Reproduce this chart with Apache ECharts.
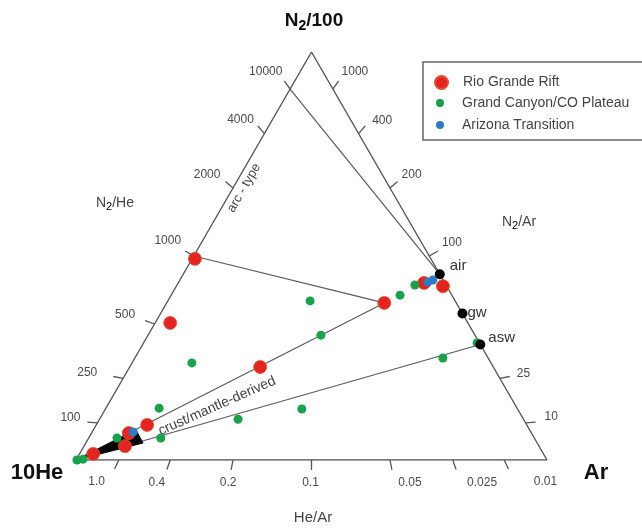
<!DOCTYPE html>
<html><head><meta charset="utf-8">
<script src="https://cdn.jsdelivr.net/npm/echarts@6/dist/echarts.min.js"></script>
<style>html,body{margin:0;padding:0;background:#fff}#c{width:642px;height:531px}</style>
</head><body><div id="c"></div>
<script>
// ---------- DATA (ternary compositions, percent: [N2/100, 10He, Ar]) ----------
const seriesNames = ['Rio Grande Rift', 'Grand Canyon/CO Plateau', 'Arizona Transition'];
const rioGrandeRift = [[49.3,50.1,0.6],[33.6,63.2,3.2],[38.5,15.3,46.2],[22.8,49.5,27.7],[8.6,80.6,10.8],
  [6.6,85.5,7.9],[3.4,87.9,8.7],[1.5,95.7,2.9],[43.4,4.4,52.2],[42.6,0.8,56.6]];
const grandCanyon = [[0,99.8,0.2],[0.2,98.4,1.4],[5.4,88.6,6.0],[12.7,76.0,11.3],[5.4,79.3,15.3],[23.8,63.5,12.7],
  [10.0,60.6,29.4],[12.5,45.8,41.7],[39.0,30.8,30.2],[30.6,32.7,36.7],[40.4,11.0,48.6],[42.9,6.6,50.5],
  [28.7,0.5,70.8],[25.0,9.6,65.4]];
const arizonaTransition = [[6.9,84.5,8.7],[43.6,3.5,52.9],[44.1,2.2,53.7]];
// reference atmospheric / water end-members (N2/Ar ratio, He ~ 0)
const refNames = ['air', 'gw', 'asw'];
const refN2Ar = [83.6, 56, 39.5];
// crust/mantle end-member where the mixing lines meet
const mixEndMember = [38.5, 15.3, 46.2];
// mantle wedge field near 10He apex
const mantleWedge = [[0,100,0],[7.35,83.6,9.05],[4.17,83.7,12.15]];
// axis ticks
const n2HeTicks = [10000, 4000, 2000, 1000, 500, 250, 100];
const n2ArTicks = [1000, 400, 200, 100, 25, 10];
const heArTicks = [1.0, 0.4, 0.2, 0.1, 0.05, 0.025, 0.01];
const heArTickLabels = ['1.0', '0.4', '0.2', '0.1', '0.05', '0.025', '0.01'];

// ---------- LAYOUT ----------
const leftLabelShift = [[-2,-9],[-4,-6],[-5,-6.5],[-4,-10],[-10,-6],[-16,-3.5],[-7,-4]];
const rightLabelShift = [[3,-9],[7,-5],[4,-6.5],[4,-8],[7,-3],[9,-5]];
const bottomLabelShift = [[-18,13],[-10,13],[-3,13],[-1,13],[18,13],[26,13],[37,13]];
const TICK = 10;
const FONT = "'Liberation Sans', Arial, sans-serif";

const SQ = Math.sqrt(3) / 2;
function tern(n2, he, ar) { const s = n2 + he + ar; const t = n2 / s, r = ar / s; return [r + t / 2, t * SQ]; }
const tv = d => tern(d[0], d[1], d[2]);
function onN2He(R) { return tern(R / 1000, 1, 0); }
function onN2Ar(R) { return tern(R / 100, 0, 1); }
function onHeAr(R) { return tern(0, 10 * R, 1); }
const V_HE = tern(0,1,0), V_AR = tern(0,0,1), V_N2 = tern(1,0,0);

const tickItems = [];
n2HeTicks.forEach((v, i) => tickItems.push({ value: [0, v], edge: 0, p: onN2He(v), from: V_AR, label: String(v), shift: leftLabelShift[i] }));
n2ArTicks.forEach((v, i) => tickItems.push({ value: [1, v], edge: 1, p: onN2Ar(v), from: V_HE, label: String(v), shift: rightLabelShift[i] }));
heArTicks.forEach((v, i) => tickItems.push({ value: [2, v], edge: 2, p: onHeAr(v), from: V_N2, label: heArTickLabels[i], shift: bottomLabelShift[i] }));

function renderTick(params, api) {
  const it = tickItems[params.dataIndex];
  const P = api.coord(it.p), F = api.coord(it.from);
  let dx = P[0] - F[0], dy = P[1] - F[1]; const L = Math.hypot(dx, dy); dx /= L; dy /= L;
  const E = [P[0] + dx * TICK, P[1] + dy * TICK];
  const align = it.edge === 0 ? 'right' : (it.edge === 1 ? 'left' : 'center');
  return { type: 'group', children: [
    { type: 'line', shape: { x1: P[0], y1: P[1], x2: E[0], y2: E[1] }, style: { stroke: '#555', lineWidth: 1.3 } },
    { type: 'text', x: E[0] + it.shift[0], y: E[1] + it.shift[1],
      style: { text: it.label, fill: '#4a4a4a', font: '12px ' + FONT, align: align, verticalAlign: 'middle' } }
  ]};
}

function renderWedge(params, api) {
  const pts = mantleWedge.map(d => api.coord(tv(d)));
  return { type: 'polygon', shape: { points: pts }, style: { fill: '#000', stroke: '#000', lineWidth: 1 } };
}

function lineSeries(a, b, color, width) {
  return { type: 'line', data: [a, b], symbol: 'none', silent: true, animation: false, z: 1,
    lineStyle: { color: color || '#5a5a5a', width: width || 1.2 } };
}

const refPts = refN2Ar.map(onN2Ar);
const refLabelOffset = [[0,-8],[-5,-1],[-2,-7]];

const rich = (size, weight, color) => ({
  a: { fontSize: size, fontWeight: weight, fill: color, color: color, fontFamily: FONT },
  s: { fontSize: Math.round(size * 0.75), fontWeight: weight, color: color, fontFamily: FONT, padding: [Math.round(size * 0.5), 0, 0, 0] }
});

const chart = echarts.init(document.getElementById('c'), null, { renderer: 'canvas' });
chart.setOption({
  animation: false,
  backgroundColor: '#fff',
  grid: { left: 76, top: 52, width: 471, height: 408, containLabel: false },
  xAxis: { type: 'value', min: 0, max: 1, show: false },
  yAxis: { type: 'value', min: 0, max: SQ, show: false },
  legend: [
    { data: [{ name: seriesNames[0], icon: 'circle' }], left: 434, top: 75, padding: 0, itemWidth: 13, itemHeight: 13,
      selectedMode: false, textStyle: { fontSize: 14, color: '#444', fontFamily: FONT, padding: [0,0,0,10] } },
    { data: [{ name: seriesNames[1], icon: 'circle' }, { name: seriesNames[2], icon: 'circle' }], orient: 'vertical',
      left: 436, top: 95, padding: 0, itemWidth: 8, itemHeight: 8, itemGap: 6, selectedMode: false,
      textStyle: { fontSize: 14, color: '#444', fontFamily: FONT, lineHeight: 16, padding: [0,0,0,13] } }
  ],
  graphic: [
    { type: 'rect', shape: { x: 423, y: 62, width: 230, height: 78 }, style: { fill: 'none', stroke: '#666', lineWidth: 1.5 }, z: 0 },
    { type: 'text', x: 314, y: 21, style: { text: '{a|N}{s|2}{a|/100}', rich: rich(19, 'bold', '#111'), align: 'center', verticalAlign: 'middle' } },
    { type: 'text', x: 37, y: 473, style: { text: '10He', font: 'bold 22px ' + FONT, fill: '#111', align: 'center', verticalAlign: 'middle' } },
    { type: 'text', x: 596, y: 473, style: { text: 'Ar', font: 'bold 22px ' + FONT, fill: '#111', align: 'center', verticalAlign: 'middle' } },
    { type: 'text', x: 313, y: 518, style: { text: 'He/Ar', font: '15px ' + FONT, fill: '#444', align: 'center', verticalAlign: 'middle' } },
    { type: 'text', x: 115, y: 203, style: { text: '{a|N}{s|2}{a|/He}', rich: rich(14, 'normal', '#444'), align: 'center', verticalAlign: 'middle' } },
    { type: 'text', x: 519, y: 222, style: { text: '{a|N}{s|2}{a|/Ar}', rich: rich(14, 'normal', '#444'), align: 'center', verticalAlign: 'middle' } },
    { type: 'text', x: 244, y: 188, rotation: 60 * Math.PI / 180, style: { text: 'arc - type', font: '13px ' + FONT, fill: '#444', align: 'center', verticalAlign: 'middle' } },
    { type: 'text', x: 217, y: 406, rotation: 24 * Math.PI / 180, style: { text: 'crust/mantle-derived', font: '14px ' + FONT, fill: '#444', align: 'center', verticalAlign: 'middle' } }
  ],
  series: [
    { type: 'line', data: [V_HE, V_AR, V_N2, V_HE], symbol: 'none', silent: true, z: 1, lineStyle: { color: '#555', width: 1.4 } },
    lineSeries(onN2He(10000), refPts[0]),
    lineSeries(onN2He(1000), tv(mixEndMember)),
    lineSeries(V_HE, tv(mixEndMember)),
    lineSeries(V_HE, refPts[2]),
    { type: 'custom', renderItem: renderTick, data: tickItems.map(t => t.value), clip: false, silent: true, z: 2 },
    { type: 'custom', renderItem: renderWedge, data: [[0, 0]], clip: false, silent: true, z: 2 },
    { name: seriesNames[0], type: 'scatter', data: rioGrandeRift.map(tv), symbol: 'circle', symbolSize: 13, z: 3,
      itemStyle: { color: '#e5231f', borderColor: '#e05030', borderWidth: 0.8, opacity: 1 } },
    { name: seriesNames[1], type: 'scatter', data: grandCanyon.map(tv), symbol: 'circle', symbolSize: 9, z: 4,
      itemStyle: { color: '#17a24b', opacity: 1 } },
    { name: seriesNames[2], type: 'scatter', data: arizonaTransition.map(tv), symbol: 'circle', symbolSize: 9, z: 5,
      itemStyle: { color: '#2b7cc4', opacity: 1 } },
    { name: 'reference', type: 'scatter', symbol: 'circle', symbolSize: 10, z: 6, itemStyle: { color: '#000', opacity: 1 },
      data: refPts.map((p, i) => ({ value: p, label: { show: true, formatter: refNames[i], position: 'right', offset: refLabelOffset[i],
        fontSize: 15, color: '#333', fontFamily: FONT } })) }
  ]
});
</script></body></html>
